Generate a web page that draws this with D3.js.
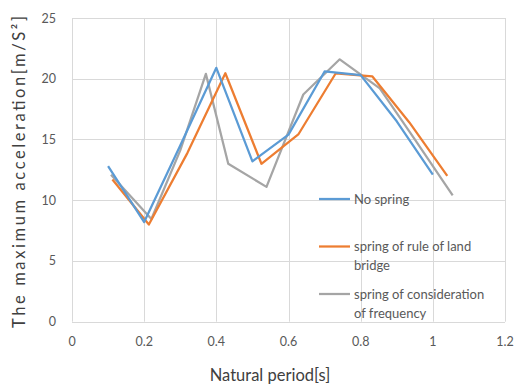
<!DOCTYPE html>
<html>
<head>
<meta charset="utf-8">
<script src="https://cdn.jsdelivr.net/npm/d3@7"></script>
<style>
  body { margin: 0; background: #fff; }
  text { font-family: Lato, "Open Sans", sans-serif; }
</style>
</head>
<body>
<div class="chart"></div>
<script>
// values
var noSpringT = [0.1, 0.2, 0.3, 0.4, 0.5, 0.6, 0.7, 0.8, 0.9, 1.0];
var noSpring = [12.8, 8.2, 14.5, 20.9, 13.2, 15.4, 20.6, 20.3, 16.5, 12.1];

var landBridgeT = [0.112, 0.213, 0.32, 0.425, 0.525, 0.628, 0.731, 0.832, 0.935, 1.04];
var landBridge = [11.7, 8.0, 13.9, 20.45, 13.0, 15.45, 20.45, 20.2, 16.4, 12.0];

var freqT = [0.108, 0.22, 0.3, 0.371, 0.433, 0.539, 0.641, 0.742, 0.853, 0.95, 1.055];
var freq = [12.1, 8.45, 14.1, 20.4, 13.0, 11.1, 18.7, 21.6, 19.2, 15.0, 10.4];

var xTicks = [0, 0.2, 0.4, 0.6, 0.8, 1, 1.2];
var yTicks = [0, 5, 10, 15, 20, 25];

var legendLines = [["No spring"], ["spring of rule of land", "bridge"], ["spring of consideration", "of frequency"]];
var colors = ["#5B9BD5", "#ED7D31", "#A5A5A5"];

var width = 514;
var height = 385;

var svg = d3.select('.chart').append('svg')
    .attr('width', width)
    .attr('height', height);

var x = d3.scaleLinear().domain([0, 1.2]).range([72, 505]);
var y = d3.scaleLinear().domain([0, 25]).range([321.7, 18]);

// gridlines
svg.append('g').selectAll('line.h')
    .data(yTicks)
  .enter().append('line')
    .attr('x1', x(0)).attr('x2', x(1.2))
    .attr('y1', function (d) { return Math.round(y(d)) + 0.5; })
    .attr('y2', function (d) { return Math.round(y(d)) + 0.5; })
    .style('stroke', '#d9d9d9').style('stroke-width', 1);

svg.append('g').selectAll('line.v')
    .data(xTicks)
  .enter().append('line')
    .attr('y1', y(0)).attr('y2', y(25))
    .attr('x1', function (d) { return Math.round(x(d)) + 0.5; })
    .attr('x2', function (d) { return Math.round(x(d)) + 0.5; })
    .style('stroke', '#d9d9d9').style('stroke-width', 1);

// tick labels
svg.append('g').selectAll('text')
    .data(yTicks)
  .enter().append('text')
    .attr('x', 56)
    .attr('y', function (d) { return y(d) + 4.5; })
    .attr('text-anchor', 'end')
    .style('font-size', '12.5px')
    .style('fill', '#595959')
    .text(function (d) { return d; });

svg.append('g').selectAll('text')
    .data(xTicks)
  .enter().append('text')
    .attr('x', function (d) { return x(d); })
    .attr('y', 346)
    .attr('text-anchor', 'middle')
    .style('font-size', '12.5px')
    .style('fill', '#595959')
    .text(function (d) { return d; });

// axis titles
svg.append('text')
    .attr('x', 270).attr('y', 381)
    .attr('text-anchor', 'middle')
    .style('font-size', '16.5px')
    .style('fill', '#404040')
    .text('Natural period[s]');

svg.append('text')
    .attr('transform', 'translate(25,172) rotate(-90)')
    .attr('text-anchor', 'middle')
    .attr('textLength', 312)
    .style('font-size', '16.5px')
    .style('fill', '#404040')
    .text('The maximum acceleration[m/S²]');

// series
var series = [
  noSpringT.map(function (t, i) { return [t, noSpring[i]]; }),
  landBridgeT.map(function (t, i) { return [t, landBridge[i]]; }),
  freqT.map(function (t, i) { return [t, freq[i]]; })
];

var line = d3.line()
    .x(function (d) { return x(d[0]); })
    .y(function (d) { return y(d[1]); });

// gray first, blue on top
[2, 1, 0].forEach(function (k) {
  svg.append('path')
      .datum(series[k])
      .attr('d', line)
      .style('fill', 'none')
      .style('stroke', colors[k])
      .style('stroke-width', 2.25)
      .style('stroke-linejoin', 'round');
});

// legend
var legendY = [199, 246.5, 294];
var legend = svg.append('g').selectAll('g')
    .data(legendLines)
  .enter().append('g')
    .attr('transform', function (d, i) { return 'translate(319,' + legendY[i] + ')'; });

legend.append('line')
    .attr('x1', 0).attr('x2', 31)
    .attr('y1', 0).attr('y2', 0)
    .style('stroke', function (d, i) { return colors[i]; })
    .style('stroke-width', 2.25);

legend.each(function (d) {
  var g = d3.select(this);
  d.forEach(function (s, j) {
    g.append('text')
        .attr('x', 35)
        .attr('y', 4.5 + j * 19.3)
        .style('font-size', '13px')
        .style('fill', '#595959')
        .text(s);
  });
});
</script>
</body>
</html>
